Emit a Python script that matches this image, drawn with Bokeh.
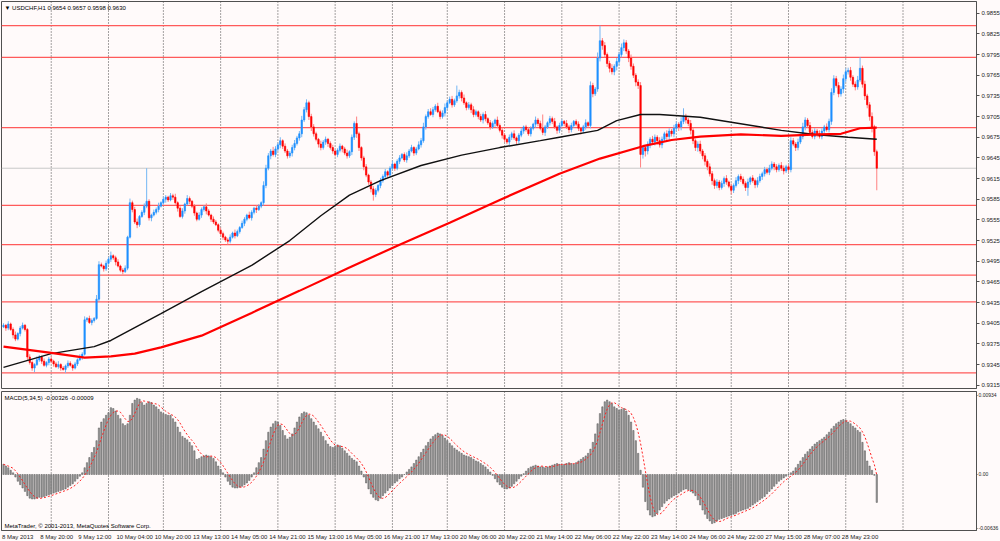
import pandas as pd
from bokeh.plotting import figure
from bokeh.layouts import column
from bokeh.models import (Range1d, FixedTicker, Label, Span, ColumnDataSource,
                          NumeralTickFormatter, CustomJSTickFormatter)
from bokeh.embed import file_html
from bokeh.resources import INLINE

# ---------------- data (prices in pips: 9402 -> 0.9402) ----------------
first_open = 9400
closes = [
    9402, 9398, 9404, 9396, 9388, 9382, 9390, 9398, 9402, 9396,
    9356, 9348, 9340, 9345, 9352, 9356, 9350, 9344, 9348, 9353, 9350,
    9346, 9342, 9345, 9340, 9338, 9343, 9347, 9344, 9340, 9346, 9352, 9356, 9360,
    9410, 9412, 9406, 9409, 9412, 9440, 9490,
    9488, 9484, 9492, 9498, 9503, 9500, 9494, 9488, 9482, 9480, 9485,
    9530, 9580, 9570, 9552, 9548, 9560, 9566, 9575, 9582, 9558,
    9562, 9566, 9570, 9575, 9580, 9585, 9588, 9584, 9590,
    9588, 9580, 9572, 9560, 9568, 9578, 9586, 9582, 9575, 9565, 9556, 9562, 9570,
    9574, 9568, 9562, 9556, 9552, 9548, 9540, 9535, 9530, 9526, 9524, 9530, 9536, 9532, 9538, 9544,
    9550, 9556, 9562, 9558, 9566, 9572, 9570, 9575, 9580,
    9605, 9630, 9648, 9655, 9650, 9658,
    9664, 9670, 9662, 9655, 9648, 9652, 9660, 9666, 9674, 9680,
    9700, 9715, 9725, 9705, 9690,
    9680, 9672, 9665, 9660, 9668, 9672, 9666, 9660,
    9655, 9650, 9656, 9662, 9658, 9652, 9648, 9654, 9675, 9695, 9680, 9660,
    9645, 9632, 9620, 9610, 9600, 9592, 9598, 9605, 9612,
    9618, 9625, 9620, 9630, 9636, 9630, 9640, 9645, 9650, 9642, 9648, 9655, 9660, 9652, 9658, 9664, 9670,
    9690, 9705, 9712, 9708, 9715, 9720, 9712, 9705, 9710, 9718, 9725, 9730, 9722, 9728, 9735,
    9740, 9732, 9725, 9718, 9722, 9715, 9708, 9712, 9705, 9700, 9708, 9702, 9696, 9690, 9695, 9700, 9692,
    9685, 9678, 9672, 9668, 9675, 9680, 9674, 9670, 9678, 9684,
    9690, 9686, 9680, 9688, 9694, 9700, 9695, 9688, 9682, 9690,
    9696, 9702, 9698, 9690, 9685, 9692, 9698, 9695, 9690, 9686,
    9692, 9698, 9694, 9688, 9684, 9690, 9696, 9692,
    9750, 9738, 9745, 9790, 9815,
    9808, 9795, 9782, 9775, 9770, 9778, 9785, 9795, 9805, 9812,
    9800, 9790, 9778, 9765, 9755, 9750, 9650,
    9660, 9655, 9665, 9672, 9668, 9675, 9670, 9664, 9672, 9680, 9676, 9684, 9680, 9688, 9694, 9690, 9698, 9705, 9700, 9695,
    9685, 9670, 9660, 9665, 9655, 9648, 9640, 9632, 9622, 9612, 9605, 9610,
    9602, 9608, 9615, 9610, 9604, 9598, 9605, 9612, 9618, 9614, 9608, 9602, 9610, 9616, 9612, 9606, 9612,
    9618, 9622, 9628, 9624, 9630, 9636, 9632, 9628, 9634, 9630, 9626, 9632, 9628,
    9670, 9665, 9660, 9668, 9676,
    9690, 9700, 9692, 9682, 9676, 9684, 9680, 9676, 9684, 9690, 9686, 9698,
    9740, 9760, 9750, 9738, 9745, 9760,
    9770, 9772, 9762, 9752, 9748, 9758, 9775,
    9752, 9735, 9722, 9705, 9690, 9654, 9630,
]
hi_wick = [
    3, 2, 4, 2, 3, 5, 2, 3, 4, 2,   2, 4, 3, 2, 5, 3, 2, 4, 2, 3,
    4, 2, 3, 5, 2, 3, 2, 4, 3, 2,   3, 2, 4, 3, 5, 2, 4, 3, 2, 6,
    5, 3, 2, 4, 3, 6, 2, 3, 4, 2,   3, 4, 2, 6, 3, 4, 5, 2, 3, 4,
    48, 3, 2, 4, 3, 5, 2, 4, 3, 2,  4, 3, 5, 2, 3, 4, 2, 5, 3, 2,
    3, 2, 4, 3, 2, 5, 3, 2, 4, 3,   2, 4, 3, 2, 3, 4, 2, 5, 3, 2,
    4, 3, 2, 5, 3, 2, 4, 3, 2, 6,   5, 4, 3, 6, 4, 3, 5, 2, 4, 3,
    3, 4, 5, 3, 4, 6, 4, 5, 3, 4,   4, 3, 2, 5, 3, 4, 2, 3, 4, 2,
    3, 4, 2, 3, 5, 2, 4, 3, 10, 3,  2, 3, 4, 2, 3, 4, 3, 2, 4, 3,
    4, 2, 3, 5, 2, 3, 4, 2, 3, 5,   3, 4, 2, 3, 5, 4, 6, 3, 4, 5,
    4, 3, 5, 3, 4, 6, 3, 4, 5, 3,   15, 4, 3, 5, 2, 4, 3, 5, 3, 2,
    4, 3, 5, 2, 4, 3, 2, 5, 3, 4,   3, 2, 4, 3, 5, 2, 3, 4, 2, 3,
    4, 3, 2, 5, 3, 4, 20, 3, 2, 4,  3, 5, 2, 4, 3, 2, 5, 3, 4, 2,
    3, 4, 2, 3, 5, 2, 6, 4, 3, 8,   22, 4, 5, 3, 4, 6, 3, 5, 4, 6,
    5, 4, 3, 5, 4, 3, 4, 5, 3, 4,   4, 3, 5, 4, 3, 5, 4, 3, 5, 4,
    3, 5, 4, 3, 6, 12, 4, 3, 5, 4,  3, 4, 5, 3, 4, 3, 5, 4, 3, 4,
    3, 4, 3, 5, 2, 4, 3, 5, 3, 4,   4, 3, 5, 2, 4, 3, 5, 4, 3, 4,
    3, 5, 4, 3, 4, 3, 5, 4, 3, 4,   5, 4, 3, 5, 4, 6, 4, 3, 5, 4,
    4, 3, 5, 4, 3, 5, 4, 6, 5, 4,   5, 4, 6, 5, 4, 5, 3, 4, 6, 16,
    4, 5, 3, 4, 6, 3, 3,
]
lo_wick = [
    2, 4, 3, 2, 5, 3, 2, 4, 2, 3,   5, 3, 4, 6, 2, 3, 4, 2, 3, 4,
    3, 4, 2, 3, 4, 2, 5, 3, 2, 4,   2, 3, 2, 4, 2, 3, 2, 4, 3, 2,
    3, 2, 4, 3, 2, 4, 3, 5, 2, 3,   4, 2, 3, 2, 4, 3, 5, 3, 2, 4,
    3, 4, 5, 2, 3, 4, 2, 3, 5, 3,   2, 4, 3, 5, 2, 3, 4, 2, 4, 3,
    4, 3, 2, 4, 3, 5, 2, 4, 3, 2,   3, 2, 4, 3, 5, 3, 2, 4, 2, 3,
    2, 4, 3, 2, 4, 3, 5, 2, 3, 4,   4, 3, 5, 3, 4, 3, 5, 4, 3, 4,
    3, 5, 4, 3, 4, 5, 3, 4, 5, 6,   4, 3, 5, 4, 3, 4, 5, 3, 4, 3,
    4, 3, 5, 3, 4, 3, 5, 4, 6, 5,   4, 5, 3, 4, 5, 9, 4, 3, 4, 3,
    3, 4, 3, 2, 4, 3, 4, 2, 3, 4,   3, 2, 4, 3, 2, 4, 3, 4, 3, 2,
    4, 3, 2, 4, 3, 5, 3, 2, 4, 3,   3, 4, 5, 3, 4, 3, 5, 4, 3, 4,
    3, 5, 4, 3, 4, 3, 5, 4, 3, 5,   4, 3, 5, 4, 3, 5, 4, 3, 4, 3,
    3, 4, 3, 5, 4, 3, 4, 5, 3, 4,   4, 3, 5, 4, 3, 4, 3, 5, 4, 3,
    3, 4, 5, 3, 4, 3, 4, 5, 3, 4,   5, 6, 4, 5, 6, 4, 5, 6, 5, 4,
    5, 4, 6, 5, 4, 6, 5, 19, 6, 8,  5, 6, 4, 5, 6, 4, 5, 4, 6, 5,
    4, 5, 4, 6, 5, 4, 5, 4, 6, 5,   5, 6, 4, 5, 6, 5, 4, 6, 5, 4,
    4, 3, 5, 4, 3, 6, 4, 3, 5, 4,   3, 5, 12, 4, 3, 5, 4, 3, 5, 4,
    3, 4, 3, 5, 4, 3, 4, 5, 3, 4,   4, 3, 5, 4, 3, 4, 5, 3, 4, 3,
    4, 5, 3, 4, 5, 3, 4, 5, 4, 3,   5, 4, 6, 5, 4, 5, 4, 5, 4, 3,
    5, 6, 5, 6, 8, 6, 32,
]
# MACD(5,34,5) main values in units of 0.0001
macd_e4 = [
    12, 10, 8, 5, 2,
    -3, -8, -12, -16, -20, -25, -28, -29,
    -29, -28, -27, -27, -26, -25, -24, -23, -22, -21, -20, -19, -18, -17, -15, -13, -11, -8,
    -5, -2, 2,
    8, 14, 20, 26, 32, 40, 55, 62, 66, 70, 73,
    79, 78, 75, 70, 66, 60, 58, 60,
    70, 84, 88, 90, 89, 85, 82, 84,
    86, 85, 82, 80, 77, 74, 72, 71, 70, 70,
    66, 62, 56, 50, 45, 43, 41, 38, 34, 28,
    18, 19, 21, 22, 23, 22, 21, 19, 15,
    10, 6, 2, -3, -8, -12, -15, -16,
    -16, -15, -14, -12, -10, -7, -3, 2,
    8, 14, 20, 30, 40, 50, 56, 60, 63, 62,
    58, 52, 46, 42, 44, 48, 55, 62, 68,
    72, 74, 73, 70, 66, 62,
    58, 54, 50, 45, 40, 36, 33, 32, 33, 35, 34, 31, 28, 25, 22, 19, 17,
    15, 10, 4, -3, -10, -17, -23, -27, -30, -31, -28,
    -25, -22, -19, -16, -13, -10, -8, -5, -3, 0, 3, 6,
    9, 13, 17, 21, 26, 30, 34, 38, 42, 45, 47, 49, 48,
    46, 43, 40, 37, 34, 31, 29, 27, 25, 23, 22, 21, 20,
    18, 16, 15, 13, 11, 9, 6, 3,
    -1, -5, -9, -12, -15, -17, -17, -16, -14, -11, -8,
    -5, -2, 1, 4, 7, 9, 10, 11, 10, 9,
    9, 8, 9, 10, 11, 12, 13, 12, 11, 12, 13, 14, 13, 12, 14, 16, 18, 20,
    22, 25, 30, 38, 48,
    60, 72, 80, 86, 88,
    86, 84, 80, 78, 76, 77, 78, 75, 70,
    62, 52, 40, 25, 5, -15,
    -32, -42, -48, -50, -49, -46, -42, -38,
    -34, -31, -29, -27, -25, -24, -22, -20,
    -18, -17, -18, -20, -22, -25,
    -30, -36, -42, -47, -52, -55, -58, -57, -55,
    -53, -52, -51, -50, -49, -48, -47, -46, -44, -43, -42, -41, -40, -38, -36, -34, -32,
    -30, -28, -26, -23, -20, -17, -14, -11, -8,
    -6, -4, -2, 0, 2, 4,
    8, 12, 16, 20, 24, 27, 30, 33, 36, 38, 40, 42, 44, 47, 50,
    54, 57, 60, 62, 64, 65, 64,
    62, 60, 57, 55, 52, 50,
    38, 28, 16, 10, 5, -1, -33,
]
# moving averages (bar index, price)
ma_black_bar = [0, 20, 38, 45, 66, 83, 104, 120, 133, 145, 158, 175, 192, 208, 225, 233,
                249, 257, 267, 275, 292, 326, 340, 354, 366]
ma_black = [0.9341, 0.9361, 0.9371, 0.9380, 0.9419, 0.9451, 0.9489, 0.9525, 0.9561, 0.9591,
            0.9612, 0.9634, 0.9649, 0.9660, 0.9670, 0.9675, 0.9685, 0.9699, 0.9708, 0.9708,
            0.9704, 0.9685, 0.9679, 0.9675, 0.9672]
ma_red_bar = [0, 20, 34, 45, 55, 66, 83, 104, 124, 145, 166, 187, 208, 233, 250, 268,
              280, 292, 309, 326, 342, 351, 359, 366]
ma_red = [0.9371, 0.9362, 0.9355, 0.9357, 0.9361, 0.9370, 0.9387, 0.9420, 0.9452, 0.9486,
          0.9519, 0.9551, 0.9584, 0.9622, 0.9644, 0.9662, 0.9671, 0.9676, 0.9679, 0.9677,
          0.9679, 0.9680, 0.9688, 0.9689]
levels = [0.9837, 0.9791, 0.9689, 0.9576, 0.9519, 0.9475, 0.9436, 0.9333]
level_labels = ["0.9837", "0.9791", "0.9689", "0.9576", "0.9519", "0.9475", "0.9436", "0.9333"]
bid_price = 0.9630
bid_label = "0.9630"
price_ticks = [0.9315, 0.9345, 0.9375, 0.9405, 0.9435, 0.9465, 0.9495, 0.9525, 0.9555, 0.9585,
               0.9615, 0.9645, 0.9675, 0.9705, 0.9735, 0.9765, 0.9795, 0.9825, 0.9855]
macd_ticks = [-0.00636, 0, 0.00934]
macd_tick_labels = ["-0.00636", "0.00", "0.00934"]
day_start_bars = [20, 44, 67, 91, 115, 139, 163, 186, 210, 234, 258, 282, 305, 329, 353, 377]
time_tick_bars = [0, 16, 32, 48, 64, 80, 96, 112, 128, 144, 160, 176, 192, 208, 224, 240,
                  256, 272, 288, 304, 320, 336, 352]
time_tick_labels = ["8 May 2013", "8 May 20:00", "9 May 12:00", "10 May 04:00", "10 May 20:00",
                    "13 May 13:00", "14 May 05:00", "14 May 21:00", "15 May 13:00", "16 May 05:00",
                    "16 May 21:00", "17 May 13:00", "20 May 06:00", "20 May 22:00", "21 May 14:00",
                    "22 May 06:00", "22 May 22:00", "23 May 14:00", "24 May 06:00", "24 May 22:00",
                    "27 May 15:00", "28 May 07:00", "28 May 23:00"]
header_text = "\u25bc USDCHF,H1  0.9654 0.9657 0.9598 0.9630"
macd_text = "MACD(5,34,5) -0.00326 -0.00009"
copyright_text = "MetaTrader, \u00a9 2001-2013, MetaQuotes Software Corp."

# ---------------- build candles ----------------
opens = [first_open] + closes[:-1]
up = dict(x=[], top=[], bot=[], h=[], l=[])
dn = dict(x=[], top=[], bot=[], h=[], l=[])
for i, (o, c, hw, lw) in enumerate(zip(opens, closes, hi_wick, lo_wick)):
    d = up if c >= o else dn
    d["x"].append(i)
    d["top"].append(max(o, c) / 10000)
    d["bot"].append(min(o, c) / 10000)
    d["h"].append((max(o, c) + hw) / 10000)
    d["l"].append((min(o, c) - lw) / 10000)

macd = [v / 10000 for v in macd_e4]
signal = pd.Series(macd).rolling(5, min_periods=1).mean().tolist()

FONT = "Liberation Sans"
BG = "#fffafa"
FS = "6px"
FSPX = 6.0
X0, X1 = -0.84, 407.8
PX_PER_BAR = 975.0 / (X1 - X0)
PY0, PY1 = 0.93103, 0.98720
MY0, MY1 = -0.00662, 0.00981

# approximate Liberation Sans advance widths (em) to left-align time labels at their bar
CHAR_W = {" ": 0.278, ":": 0.278, "M": 0.833, "a": 0.556, "y": 0.5}


def text_w(s):
    return sum(CHAR_W.get(ch, 0.556) for ch in s) * FSPX


label_pos = [b + (text_w(t) / 2 - 1.5) / PX_PER_BAR for b, t in zip(time_tick_bars, time_tick_labels)]


def style_axis(ax):
    ax.major_label_text_font = FONT
    ax.major_label_text_font_size = FS
    ax.major_label_text_color = "#1a1a1a"
    ax.major_tick_out = 3
    ax.major_tick_in = 0
    ax.minor_tick_line_color = None
    ax.major_tick_line_color = "#505050"
    ax.axis_line_color = "#505050"
    ax.major_label_standoff = 2


# ---------------- main price panel ----------------
p = figure(frame_width=975, frame_height=387, x_range=Range1d(X0, X1), y_range=Range1d(PY0, PY1),
           x_axis_location=None, y_axis_location="right", toolbar_location=None,
           output_backend="svg", min_border_left=1, min_border_top=1, min_border_bottom=2,
           min_border_right=0, background_fill_color=BG, border_fill_color=BG,
           outline_line_color="#505050")
p.grid.visible = False
ya = p.yaxis[0]
ya.ticker = FixedTicker(ticks=price_ticks)
ya.formatter = NumeralTickFormatter(format="0.0000")
style_axis(ya)

for b in day_start_bars:
    p.add_layout(Span(location=b, dimension="height", line_color="#484848", line_dash="1 2",
                      line_width=1, level="underlay"))
p.add_layout(Span(location=bid_price, dimension="width", line_color="#c8c8c8", line_width=1,
                  level="underlay"))
for lv in levels:
    p.add_layout(Span(location=lv, dimension="width", line_color="#ff5a5a", line_width=1.3,
                      level="underlay"))

su = ColumnDataSource(up)
sd = ColumnDataSource(dn)
p.segment(x0="x", y0="h", x1="x", y1="l", source=su, line_color="#74b6f4", line_width=1)
p.segment(x0="x", y0="h", x1="x", y1="l", source=sd, line_color="#ff8080", line_width=1)
p.vbar(x="x", top="top", bottom="bot", width=0.6, source=su, fill_color="#1e90ff",
       line_color="#1e90ff", line_width=0.6)
p.vbar(x="x", top="top", bottom="bot", width=0.6, source=sd, fill_color="#ff0000",
       line_color="#ff0000", line_width=0.6)

p.line(ma_black_bar, ma_black, line_color="#111111", line_width=1.4)
p.line(ma_red_bar, ma_red, line_color="#ff0000", line_width=2.2)

for lv, txt in zip(levels, level_labels):
    p.add_layout(Label(x=X1, y=lv, x_offset=1, text=txt, text_font=FONT, text_font_size=FS,
                       text_color="white", text_align="left", text_baseline="middle",
                       background_fill_color="#ff1a1a", padding=1))
p.add_layout(Label(x=X1, y=bid_price, x_offset=1, text=bid_label, text_font=FONT,
                   text_font_size=FS, text_color="white", text_align="left",
                   text_baseline="middle", background_fill_color="#000000", padding=1))
p.add_layout(Label(x=X0, y=PY1, x_offset=3, y_offset=-3, text=header_text, text_font=FONT,
                   text_font_size=FS, text_color="#000000", text_align="left",
                   text_baseline="top"))

# ---------------- MACD panel ----------------
m = figure(frame_width=975, frame_height=139, x_range=p.x_range, y_range=Range1d(MY0, MY1),
           y_axis_location="right", toolbar_location=None, output_backend="svg",
           min_border_left=1, min_border_top=1, min_border_bottom=0, min_border_right=0,
           background_fill_color=BG, border_fill_color=BG, outline_line_color="#505050")
m.grid.visible = False
my = m.yaxis[0]
my.ticker = FixedTicker(ticks=macd_ticks)
my.major_label_overrides = {t: s for t, s in zip(macd_ticks, macd_tick_labels)}
style_axis(my)
my.major_label_text_font_size = "5px"
my.major_tick_out = 1
my.major_label_standoff = 1
mx = m.xaxis[0]
mx.ticker = FixedTicker(ticks=label_pos)
mx.formatter = CustomJSTickFormatter(args=dict(labs=time_tick_labels), code="return labs[index];")
style_axis(mx)
mx.major_tick_line_color = None
mx.major_tick_out = 0
mx.major_label_standoff = 3

for b in day_start_bars:
    m.add_layout(Span(location=b, dimension="height", line_color="#484848", line_dash="1 2",
                      line_width=1, level="underlay"))

m.vbar(x=list(range(len(macd))), top=macd, bottom=0, width=0.55, fill_color="#9a9a9a",
       line_color="#555555", line_width=0.5)
m.line(list(range(len(signal))), signal, line_color="#ff2020", line_width=1, line_dash="2 2")

m.add_layout(Label(x=X0, y=MY1, x_offset=3, y_offset=-3, text=macd_text, text_font=FONT,
                   text_font_size=FS, text_color="#000000", text_align="left",
                   text_baseline="top"))
m.add_layout(Label(x=X0, y=MY0, x_offset=3, y_offset=2, text=copyright_text, text_font=FONT,
                   text_font_size=FS, text_color="#000000", text_align="left",
                   text_baseline="bottom"))

layout = column(p, m, spacing=0)
html = file_html(layout, INLINE, title="USDCHF,H1")
html = html.replace("<head>", "<head><style>html,body{margin:0;padding:0;overflow:hidden;"
                    "background:#fffafa}</style>", 1)
open("out.html", "w").write(html)
